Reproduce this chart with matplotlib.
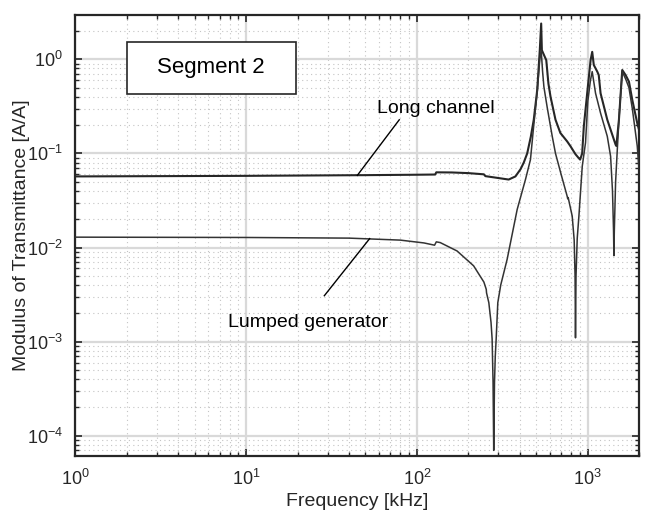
import matplotlib
matplotlib.use("Agg")
import matplotlib.pyplot as plt
from matplotlib.patches import Rectangle
from matplotlib.ticker import LogLocator, NullFormatter

plt.rcParams['font.family'] = ['Liberation Sans', 'DejaVu Sans']
plt.rcParams['mathtext.fontset'] = 'custom'
plt.rcParams['mathtext.rm'] = 'Liberation Sans'
plt.rcParams['mathtext.it'] = 'Liberation Sans:italic'
plt.rcParams['axes.unicode_minus'] = False

# Long channel model
long_f = [1, 10, 50, 100, 128, 130, 160, 200, 247, 252, 296, 345, 378, 405, 423,
          443, 465, 484, 507, 525, 535, 540, 562, 573, 590, 607, 649, 693, 760,
          795, 850, 889, 905, 930, 951, 1004, 1042, 1065, 1088, 1140, 1163, 1192,
          1305, 1460, 1475, 1527, 1597, 1671, 1748, 1829, 1955, 2000]
long_y = [0.057, 0.0578, 0.0588, 0.0594, 0.0597, 0.063, 0.0628, 0.0618, 0.060,
          0.0574, 0.055, 0.0528, 0.057, 0.068, 0.08, 0.10, 0.15, 0.228, 0.47,
          1.25, 2.4, 1.25, 1.06, 0.98, 0.55, 0.40, 0.228, 0.165, 0.134, 0.119,
          0.098, 0.089, 0.086, 0.10, 0.194, 0.51, 0.98, 1.2, 0.87, 0.74, 0.68,
          0.436, 0.228, 0.124, 0.12, 0.228, 0.77, 0.68, 0.58, 0.37, 0.21, 0.18]

# Lumped generator model
lump_f = [1, 10, 40, 80, 110, 127, 130, 137, 172, 215, 247, 255, 256, 264, 272,
          276, 279.5, 282, 285, 288, 291.5, 298, 310, 338, 387, 433, 463, 484,
          507, 525, 535, 545, 555, 580, 621, 649, 700, 760, 765, 770, 813, 835,
          845, 850, 856, 870, 890, 931, 973, 1004, 1040, 1065, 1114, 1192, 1305,
          1365, 1400, 1420, 1427, 1435, 1460, 1494, 1527, 1597, 1671, 1748, 1829,
          1955, 2000]
lump_y = [0.0129, 0.0128, 0.0126, 0.0120, 0.0112, 0.0106, 0.0115, 0.0113, 0.0092,
          0.0064, 0.0043, 0.0036, 0.0033, 0.0026, 0.0016, 0.00107, 0.00037, 7e-5,
          0.00037, 0.0007, 0.00107, 0.0026, 0.0040, 0.0075, 0.0254, 0.053, 0.086,
          0.2, 0.45, 1.0, 1.25, 0.75, 0.51, 0.31, 0.152, 0.10, 0.06, 0.035, 0.033,
          0.034, 0.0216, 0.012, 0.005, 0.0011, 0.005, 0.0125, 0.0216, 0.073, 0.13,
          0.36, 0.6, 0.74, 0.436, 0.268, 0.152, 0.093, 0.04, 0.015, 0.0082, 0.015,
          0.05, 0.11, 0.228, 0.74, 0.62, 0.5, 0.3, 0.12, 0.07]

fig = plt.figure(figsize=(6.48, 5.2), dpi=100)
ax = fig.add_axes([0.1165, 0.123, 0.8695, 0.848])

ax.loglog(long_f, long_y, color='#262626', lw=1.5, zorder=3)
ax.loglog(lump_f, lump_y, color='#333333', lw=1.1, zorder=3)

ax.set_xlim(1, 2000)
ax.set_ylim(6.1e-5, 2.95)

# grid, MATLAB look
ax.xaxis.set_minor_locator(LogLocator(base=10, subs=range(2, 10), numticks=20))
ax.yaxis.set_minor_locator(LogLocator(base=10, subs=range(2, 10), numticks=20))
ax.xaxis.set_minor_formatter(NullFormatter())
ax.yaxis.set_minor_formatter(NullFormatter())
ax.grid(True, which='major', color='#d9d9d9', lw=1.6, ls='-')
ax.grid(True, which='minor', color='#c4c4c4', lw=0.8, ls=(0, (1, 3)))
ax.set_axisbelow(True)

ax.tick_params(which='both', direction='in', top=True, right=True,
               color='#262626', labelsize=13, labelcolor='#262626')
ax.tick_params(which='major', length=5, width=1.2, pad=9)
ax.tick_params(which='minor', length=3, width=1.0)
for sp in ax.spines.values():
    sp.set_linewidth(1.6)
    sp.set_color('#262626')

ax.set_xlabel('Frequency [kHz]', fontsize=14, color='#262626')
ax.set_ylabel('Modulus of Transmittance [A/A]', fontsize=14, color='#262626')
ax.xaxis.set_label_coords(0.5, -0.083)
ax.yaxis.set_label_coords(-0.08, 0.5)

# annotations
ax.plot([44.8, 78.9], [0.0585, 0.228], color='black', lw=1.0, zorder=4)
ax.text(58.7, 0.268, 'Long channel', fontsize=14, ha='left', va='baseline')
ax.plot([52.9, 28.7], [0.01245, 0.00308], color='black', lw=1.0, zorder=4)
ax.text(7.84, 1.43e-3, 'Lumped generator', fontsize=14, ha='left', va='baseline')

box = Rectangle((0.0909, 0.821), 0.3, 0.118, transform=ax.transAxes,
                facecolor='white', edgecolor='#262626', lw=1.2, zorder=5)
ax.add_patch(box)
ax.text(0.0909 + 0.15, 0.821 + 0.059, 'Segment 2', transform=ax.transAxes,
        fontsize=16, ha='center', va='center', zorder=6)

fig.savefig('out.png', dpi=100)
